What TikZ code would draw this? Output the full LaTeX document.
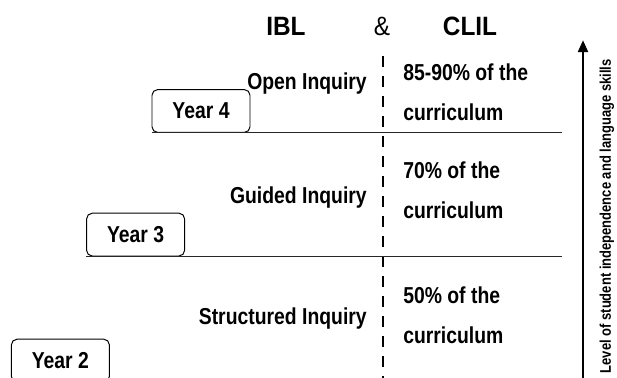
\documentclass[tikz,border=0pt]{standalone}
\usepackage{fontspec}
\setmainfont{Liberation Sans}[FakeStretch=0.84]
\newfontfamily\titlefont{Liberation Sans}[FakeStretch=0.92]
\usepackage{tikz}
\usetikzlibrary{arrows.meta,positioning}

\begin{document}
\begin{tikzpicture}[
      yearbox/.style={rectangle, draw, line width=0.7pt, rounded corners=4pt,
                      minimum width=2.45cm, minimum height=1.07cm,
                      font=\fontsize{16.4}{19}\selectfont\bfseries},
      lvl/.style={anchor=base east, inner sep=0pt,
                  font=\fontsize{16.4}{19}\selectfont\bfseries},
      pct/.style={anchor=base west, inner sep=0pt, align=left,
                  font=\fontsize{16.4}{28.45}\selectfont\bfseries},
      head/.style={inner sep=0pt, font=\fontsize{18.85}{22}\selectfont\titlefont},
      sep/.style={line width=0.7pt, black!85},
      arr/.style={-{Triangle[length=0.3cm, width=0.24cm]}, line width=2pt},
    ]

    \useasboundingbox (0,0) rectangle (15.425,9.425);

    % Headings
    \node[head, font=\fontsize{18.85}{22}\selectfont\titlefont\bfseries] (ibl) at (7.15, 8.76) {IBL};
    \node[head] (amp) at (9.55, 8.76) {\&};
    \node[head, font=\fontsize{18.85}{22}\selectfont\titlefont\bfseries] (clil) at (11.75, 8.76) {CLIL};

    % Dashed divider
    \coordinate (dtop) at (9.575, 8.025);
    \coordinate (dbot) at (9.575, -0.1);
    \draw[line width=2pt, dash pattern=on 0.275cm off 0.225cm] (dtop) -- (dbot);

    % Year boxes
    \node[yearbox] (y4) at (5.025, 6.65) {Year 4};
    \node[yearbox] (y3) at (3.39, 3.56) {Year 3};
    \node[yearbox] (y2) at (1.51, 0.41) {Year 2};

    % Level lines
    \coordinate (r4) at (14.05, 6.125);
    \coordinate (r3) at (14.05, 3.0);
    \draw[sep] (y4.south west) -- (y4.south west -| r4);
    \draw[sep] (y3.south west) -- (y3.south west -| r3);

    % Inquiry levels
    \node[lvl] (open) at (9.175, 7.2) {Open Inquiry};
    \node[lvl] (guided) at (9.175, 4.35) {Guided Inquiry};
    \node[lvl] (struct) at (9.175, 1.325) {Structured Inquiry};

    % Share of the curriculum (base = last line)
    \node[pct] (p4) at (10.075, 6.425) {85-90\% of the\\curriculum};
    \node[pct] (p3) at (10.075, 3.975) {70\% of the\\curriculum};
    \node[pct] (p2) at (10.075, 0.85) {50\% of the\\curriculum};

    % Progression arrow
    \coordinate (abot) at (14.575, -0.1);
    \coordinate (atop) at (14.575, 8.425);
    \draw[arr] (abot) -- (atop);
    \node[rotate=90, inner sep=0pt, font=\fontsize{11}{13}\selectfont\bfseries]
      (skills) at (15.175, 4.02) {Level of student independence and language skills};

\end{tikzpicture}
\end{document}
